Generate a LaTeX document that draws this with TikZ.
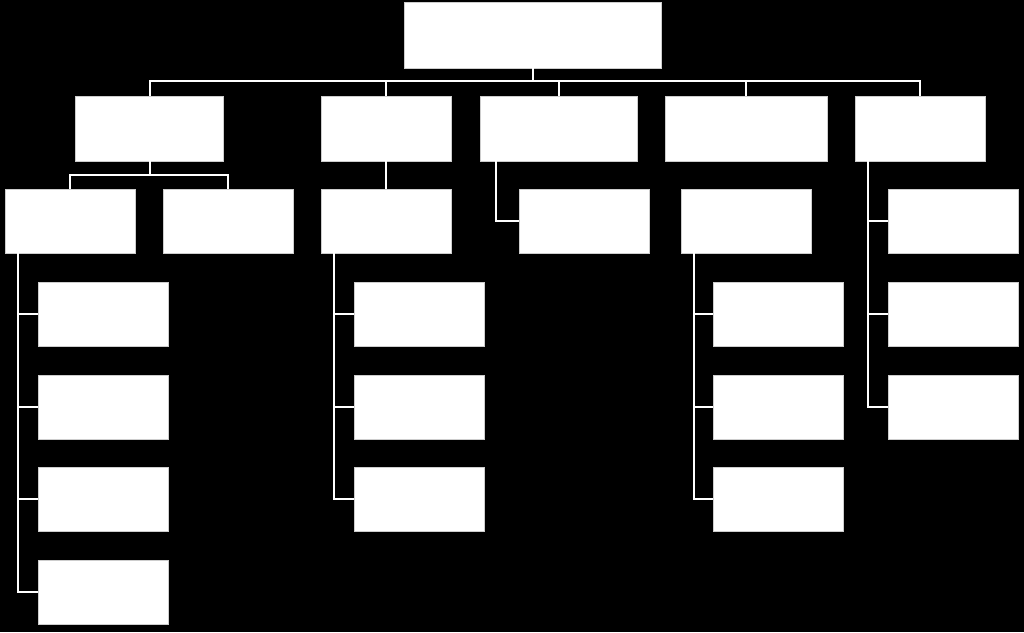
\documentclass[tikz,border=0pt]{standalone}
\begin{document}
\begin{tikzpicture}[x=1pt,y=-1pt,
  box/.style={draw={rgb,255:red,205;green,205;blue,205},line width=1pt,fill=white,inner sep=0pt,outer sep=0pt,minimum width=130pt,minimum height=64pt},
  conn/.style={draw=white,line width=2pt}]
\fill[black] (0,0) rectangle (1024,632);
\useasboundingbox (0,0) rectangle (1024,632);
% nodes
\node[box,minimum width=257pt,minimum height=66pt] (top) at (532.5,35) {};
\node[box,minimum width=148pt,minimum height=65pt] (A) at (149.5,128.5) {};
\node[box,minimum height=65pt] (B) at (386,128.5) {};
\node[box,minimum width=157pt,minimum height=65pt] (C) at (558.5,128.5) {};
\node[box,minimum width=162pt,minimum height=65pt] (D) at (746,128.5) {};
\node[box,minimum height=65pt] (E) at (920,128.5) {};
\node[box] (A1) at (70,221) {};
\node[box] (A2) at (228,221) {};
\node[box] (B1) at (386,221) {};
\node[box] (C1) at (584,221) {};
\node[box] (D1) at (746,221) {};
\node[box] (E1) at (953,221) {};
\node[box] (A11) at (103,314) {};
\node[box] (A12) at (103,407) {};
\node[box] (A13) at (103,499) {};
\node[box] (A14) at (103,592) {};
\node[box] (B11) at (419,314) {};
\node[box] (B12) at (419,407) {};
\node[box] (B13) at (419,499) {};
\node[box] (D11) at (778,314) {};
\node[box] (D12) at (778,407) {};
\node[box] (D13) at (778,499) {};
\node[box] (E2) at (953,314) {};
\node[box] (E3) at (953,407) {};
% connectors
\foreach \n in {A,B,C,D,E}{\draw[conn] (top.south) -- ++(0,13) -| (\n.north);}
\foreach \n in {A1,A2}{\draw[conn] (A.south) -- ++(0,14) -| (\n.north);}
\draw[conn] (B.south) -- (B1.north);
\draw[conn] (C.south west) ++(16,0) |- (C1.west);
\foreach \n in {E1,E2,E3}{\draw[conn] (E.south west) ++(13,0) |- (\n.west);}
\foreach \n in {A11,A12,A13,A14}{\draw[conn] (A1.south west) ++(13,0) |- (\n.west);}
\foreach \n in {B11,B12,B13}{\draw[conn] (B1.south west) ++(13,0) |- (\n.west);}
\foreach \n in {D11,D12,D13}{\draw[conn] (D1.south west) ++(13,0) |- (\n.west);}
\end{tikzpicture}
\end{document}
